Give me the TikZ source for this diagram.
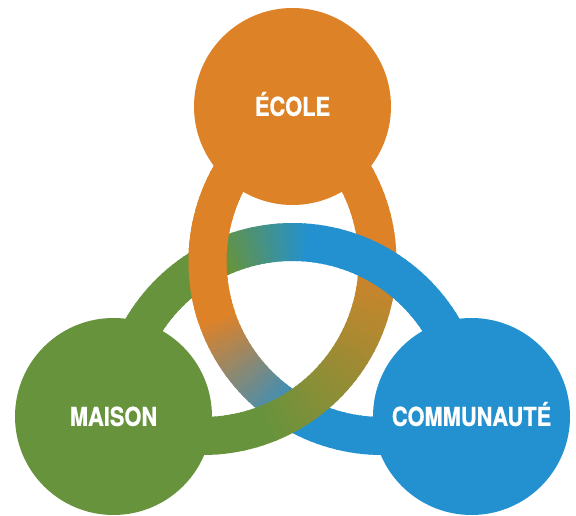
\documentclass[tikz,border=0pt]{standalone}
\usepackage{fontspec}
\newfontfamily\discfont{TeX Gyre Heros}[FakeStretch=0.84,FakeBold=0.8]
\usetikzlibrary{backgrounds,calc}
\definecolor{ecoleorange}{HTML}{DE8228}
\definecolor{maisongreen}{HTML}{67933D}
\definecolor{commblue}{HTML}{2391D0}

\begin{document}
\begin{tikzpicture}[x=1pt,y=1pt,
  disc/.style={circle,inner sep=0pt,minimum size=197pt,text=white,
    text height=18.7pt,text depth=0pt,
    font=\discfont\bfseries\fontsize{26}{26}\selectfont},
  band/.style={line width=38pt}]
\useasboundingbox (0,0) rectangle (576,516);
\node[disc,fill=ecoleorange] (ecole) at (292.5,409.5) {ÉCOLE};
\node[disc,fill=maisongreen] (maison) at (113.5,99.5) {MAISON};
\node[disc,fill=commblue] (communaute) at (471.5,99.5) {COMMUNAUTÉ};
\begin{scope}[on background layer]
\coordinate (ec) at ($(ecole)!.5!(communaute)$);
\coordinate (em) at ($(ecole)!.5!(maison)$);
\coordinate (mc) at ($(maison)!.5!(communaute)$);
% ecole -- communaute
\foreach \a in {118,120,...,302}{
  \pgfmathsetmacro\p{min(100,max(0,(\a-198)*100/42))}
  \draw[band,commblue!\p!ecoleorange] ([shift={(\a:174.5)}]ec) arc[start angle=\a,end angle=\a+2.6,radius=174.5];
}
% ecole -- maison
\foreach \a in {-124,-122,...,62}{
  \pgfmathsetmacro\p{min(100,max(0,(5-\a)*100/75))}
  \draw[band,maisongreen!\p!ecoleorange] ([shift={(\a:174.5)}]em) arc[start angle=\a,end angle=\a+2.6,radius=174.5];
}
% maison -- communaute
\foreach \a in {-4,-2,...,182}{
  \pgfmathsetmacro\p{min(100,max(0,(112-\a)*100/28))}
  \draw[band,commblue!\p!maisongreen] ([shift={(\a:174.5)}]mc) arc[start angle=\a,end angle=\a+2.6,radius=174.5];
}
% over again at the left crossing
\foreach \a in {150,152,...,196}{
  \draw[band,ecoleorange] ([shift={(\a:174.5)}]ec) arc[start angle=\a,end angle=\a+2.6,radius=174.5];
}
\end{scope}
\end{tikzpicture}
\end{document}
